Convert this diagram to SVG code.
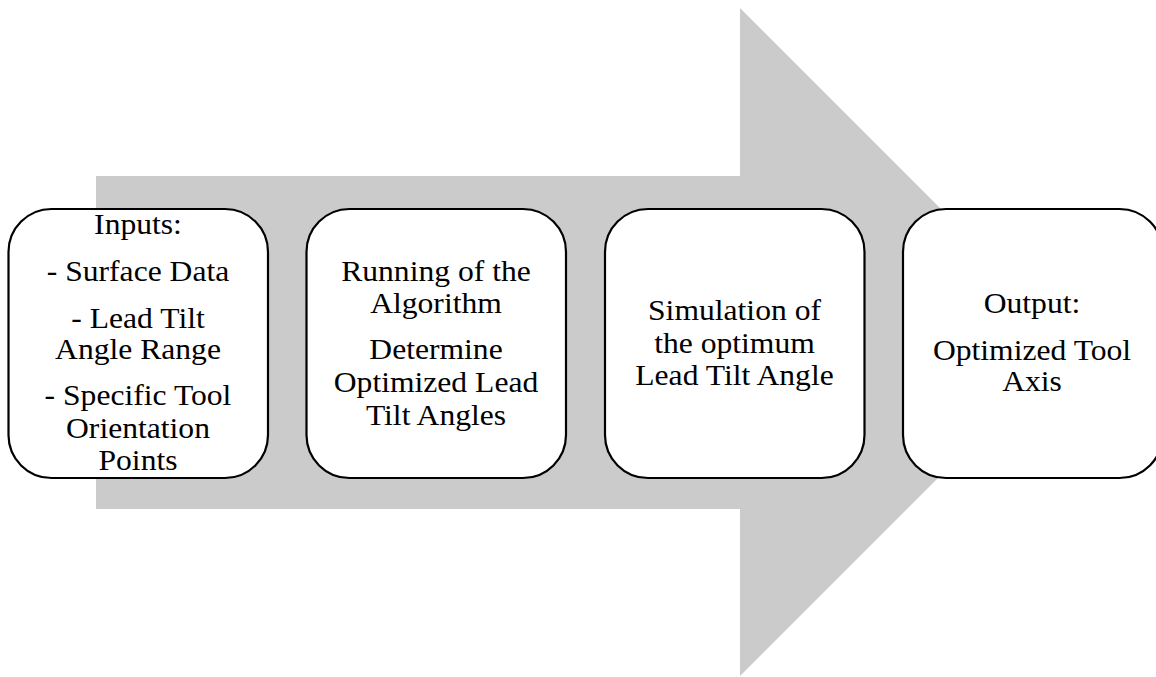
<svg xmlns="http://www.w3.org/2000/svg" width="1156" height="677" viewBox="0 0 1156 677">
<style>
.box{fill:#ffffff;stroke:#000000;stroke-width:2.2}
.t{font-family:"Liberation Serif","Times New Roman",serif;font-size:29px;fill:#000000;text-anchor:middle}
</style>
<rect width="1156" height="677" fill="#ffffff"/>
<g id="arrow">
<polygon points="96,176 740,176 740,8 1074,342 740,676 740,509 96,509" fill="#cbcbcb"/>
</g>
<g id="connectors"></g>
<g id="node1">
<rect class="box" x="8.5" y="209" width="259.5" height="269" rx="43" ry="43"/>
<g transform="translate(138,0) scale(1.09,1)">
<text class="t" x="0" y="234">Inputs:</text>
<text class="t" x="0" y="281">- Surface Data</text>
<text class="t" x="0" y="328">- Lead Tilt</text>
<text class="t" x="0" y="359">Angle Range</text>
<text class="t" x="0" y="405">- Specific Tool</text>
<text class="t" x="0" y="438">Orientation</text>
<text class="t" x="0" y="470">Points</text>
</g>
</g>
<g id="node2">
<rect class="box" x="306.5" y="209" width="259.5" height="269" rx="43" ry="43"/>
<g transform="translate(436,0) scale(1.09,1)">
<text class="t" x="0" y="281">Running of the</text>
<text class="t" x="0" y="313">Algorithm</text>
<text class="t" x="0" y="359">Determine</text>
<text class="t" x="0" y="392">Optimized Lead</text>
<text class="t" x="0" y="425">Tilt Angles</text>
</g>
</g>
<g id="node3">
<rect class="box" x="605" y="209" width="259.5" height="269" rx="43" ry="43"/>
<g transform="translate(734.5,0) scale(1.09,1)">
<text class="t" x="0" y="320">Simulation of</text>
<text class="t" x="0" y="353">the optimum</text>
<text class="t" x="0" y="385">Lead Tilt Angle</text>
</g>
</g>
<g id="node4">
<rect class="box" x="903" y="209" width="259.5" height="269" rx="43" ry="43"/>
<g transform="translate(1032,0) scale(1.09,1)">
<text class="t" x="0" y="313">Output:</text>
<text class="t" x="0" y="360">Optimized Tool</text>
<text class="t" x="0" y="391">Axis</text>
</g>
</g>
</svg>
